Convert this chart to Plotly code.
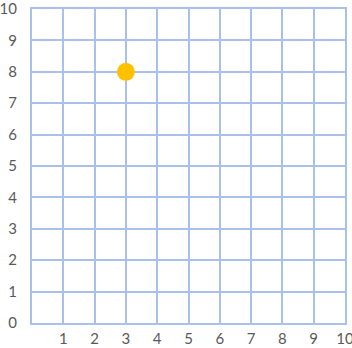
import plotly.graph_objects as go

point_x = [3]
point_y = [8]
x_ticks = [1, 2, 3, 4, 5, 6, 7, 8, 9, 10]
y_ticks = [0, 1, 2, 3, 4, 5, 6, 7, 8, 9, 10]

grid_color = "#a9c1ea"

fig = go.Figure()
fig.add_trace(go.Scatter(
    x=point_x, y=point_y, mode="markers",
    marker=dict(size=18, color="#ffc000", line=dict(width=0)),
    cliponaxis=False, showlegend=False,
))

fig.update_layout(
    width=352, height=348,
    margin=dict(l=32, r=7, t=9, b=25),
    paper_bgcolor="white", plot_bgcolor="white",
    font=dict(family="Lato, sans-serif", size=15, color="#5a5a5a"),
)
fig.update_xaxes(
    range=[0, 10], tickvals=x_ticks, ticktext=[str(v) for v in x_ticks],
    showgrid=True, gridcolor=grid_color, gridwidth=2,
    showline=True, linecolor=grid_color, linewidth=2, mirror=True,
    zeroline=False, ticks="", ticklabelstandoff=1, automargin=False,
    ticklabeloverflow="allow",
)
fig.update_yaxes(
    range=[0, 10], tickvals=y_ticks, ticktext=[str(v) for v in y_ticks],
    showgrid=True, gridcolor=grid_color, gridwidth=2,
    showline=True, linecolor=grid_color, linewidth=2, mirror=True,
    zeroline=False, ticks="", ticklabelstandoff=10, automargin=False,
    ticklabeloverflow="allow",
)

fig.write_html("out.html", config={"displayModeBar": False},
               post_script="document.body.style.margin='0';")
